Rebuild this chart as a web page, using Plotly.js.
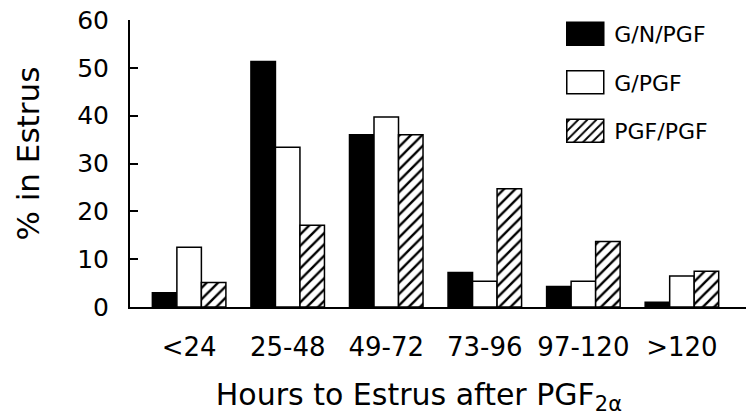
<!DOCTYPE html>
<html>
<head>
<meta charset="utf-8">
<script src="https://cdn.plot.ly/plotly-3.0.1.min.js"></script>
<style>
html, body { margin: 0; padding: 0; background: #fff; }
#chart { width: 746px; height: 416px; }
</style>
</head>
<body>
<div id="chart"></div>
<script>
// Data
var categories = ['<24', '25-48', '49-72', '73-96', '97-120', '>120'];
var seriesNames = ['G/N/PGF', 'G/PGF', 'PGF/PGF'];
var gnpgf = [3, 51.3, 36, 7.2, 4.3, 1];
var gpgf = [12.5, 33.4, 39.7, 5.4, 5.4, 6.5];
var pgfpgf = [5.1, 17.1, 36, 24.7, 13.7, 7.5];
var yTicks = [0, 10, 20, 30, 40, 50, 60];

var FONT = 'DejaVu Sans, Arial, sans-serif';
var lineStyle = { color: '#000', width: 1.5 };

var traces = [
  {
    type: 'bar', name: seriesNames[0], x: categories, y: gnpgf,
    legendgroup: 'a',
    marker: { color: '#000', line: lineStyle }
  },
  {
    type: 'bar', name: seriesNames[1], x: categories, y: gpgf,
    legendgroup: 'b',
    marker: { color: '#fff', line: lineStyle }
  },
  {
    type: 'bar', name: seriesNames[2], x: categories, y: pgfpgf,
    legendgroup: 'c',
    marker: {
      color: '#fff', line: lineStyle,
      pattern: { shape: '/', size: 8, solidity: 0.3, fgcolor: '#000', bgcolor: '#fff', fillmode: 'replace' }
    }
  }
];

var layout = {
  width: 746, height: 416,
  margin: { l: 130, r: 0, t: 20, b: 109 },
  paper_bgcolor: '#fff', plot_bgcolor: '#fff',
  font: { family: FONT, color: '#000' },
  barmode: 'group', bargap: 0.254, bargroupgap: 0,
  showlegend: true,
  legend: {
    x: 0.692, y: 1.025, xanchor: 'left', yanchor: 'top',
    font: { family: FONT, size: 22, color: '#000' },
    traceorder: 'grouped', tracegroupgap: 17, itemwidth: 48,
    bgcolor: 'rgba(0,0,0,0)', borderwidth: 0
  },
  xaxis: {
    type: 'category', range: [-0.6, 5.65],
    showline: true, linecolor: '#000', linewidth: 2,
    ticks: '', showgrid: false, zeroline: false,
    tickfont: { family: FONT, size: 26, color: '#000' },
    ticklabelstandoff: 16,
    title: { text: 'Hours to Estrus after PGF<sub>2α</sub>&nbsp;&nbsp;&nbsp;&nbsp;', font: { family: FONT, size: 30, color: '#000' }, standoff: 24 },
    automargin: false, fixedrange: true
  },
  yaxis: {
    range: [0, 60], tickmode: 'array', tickvals: yTicks,
    showline: true, linecolor: '#000', linewidth: 2,
    ticks: 'inside', ticklen: 8, tickwidth: 2, tickcolor: '#000',
    showgrid: false, zeroline: false,
    tickfont: { family: FONT, size: 25, color: '#000' },
    ticklabelstandoff: 14,
    title: { text: '&nbsp;&nbsp;% in Estrus', font: { family: FONT, size: 31, color: '#000' }, standoff: 28 },
    automargin: false, fixedrange: true
  }
};

Plotly.newPlot('chart', traces, layout, { displayModeBar: false, staticPlot: true }).then(function (gd) {
  // enlarge the legend keys to the boxed swatches of the original figure
  var paths = gd.querySelectorAll('.legend path.legendbar, .legend .legendpoints path');
  paths.forEach(function (p) { p.setAttribute('d', 'M18.5,11.5H-18.5V-11.5H18.5Z'); });
});
</script>
</body>
</html>
